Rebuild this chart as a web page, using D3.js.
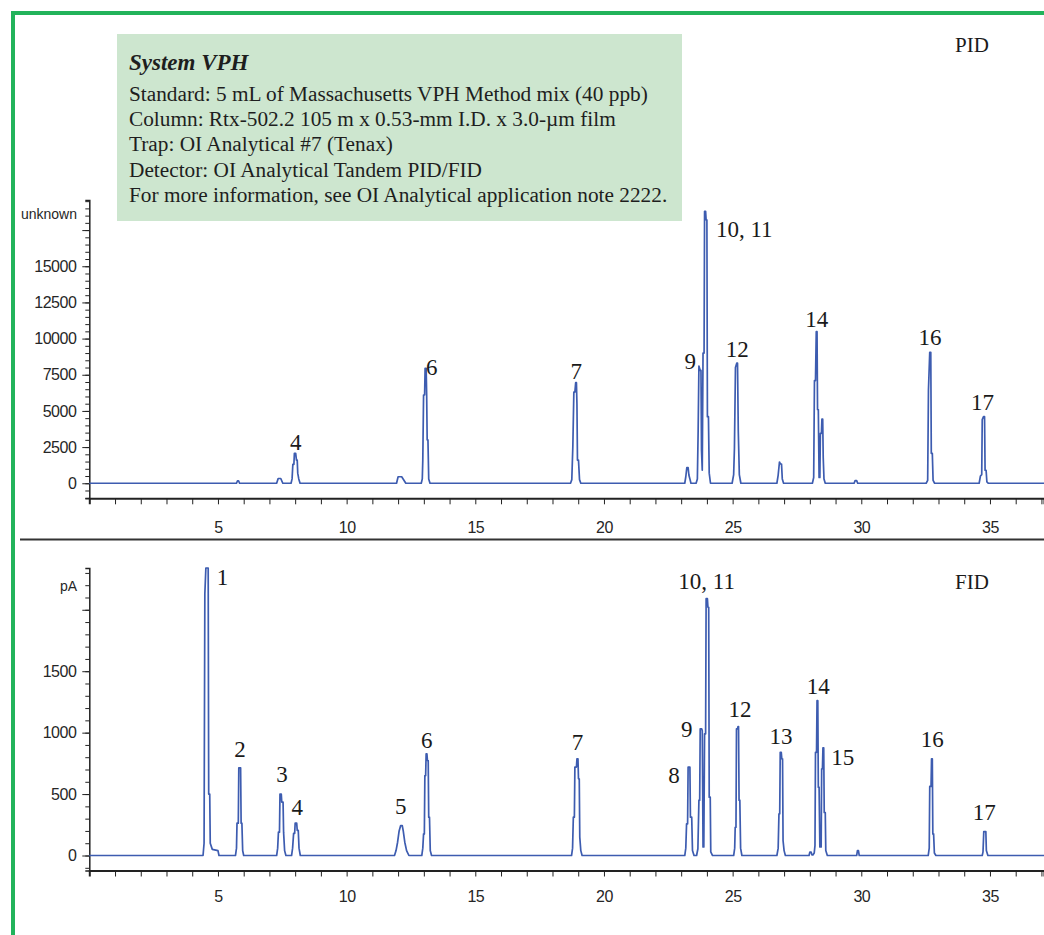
<!DOCTYPE html>
<html>
<head>
<meta charset="utf-8">
<script src="https://cdn.jsdelivr.net/npm/d3@7"></script>
<style>
  html, body { margin: 0; padding: 0; background: #fff; }
  svg { display: block; }
  .tick text { font-family: "Liberation Sans", Arial, sans-serif; font-size: 16px; letter-spacing: -0.5px; fill: #262626; }
  .tick line { stroke: #222; }
  .domain { stroke: #222; }
</style>
</head>
<body>
<div id="chart"></div>
<script>
// ---- data ----
const infoTitle = "System VPH";
const infoLines = [
  "Standard: 5 mL of Massachusetts VPH Method mix (40 ppb)",
  "Column: Rtx-502.2 105 m x 0.53-mm I.D. x 3.0-\u00b5m film",
  "Trap: OI Analytical #7 (Tenax)",
  "Detector: OI Analytical Tandem PID/FID",
  "For more information, see OI Analytical application note 2222."
];

const timeLabels = [5, 10, 15, 20, 25, 30, 35];
const pidTickLabels = [0, 2500, 5000, 7500, 10000, 12500, 15000];
const fidTickLabels = [0, 500, 1000, 1500];

// PID trace: [minutes, response]
const pidTrace = [
  [0, 0], [5.72, 0], [5.76, 170], [5.80, 170], [5.84, 0],
  [7.28, 0], [7.34, 330], [7.44, 330], [7.52, 0],
  [7.84, 0], [7.88, 300], [7.91, 1300], [7.95, 1300], [7.97, 2070], [8.02, 2070], [8.05, 1600], [8.08, 1600], [8.10, 700], [8.14, 300], [8.19, 0],
  [11.94, 0], [12.00, 450], [12.14, 450], [12.30, 0],
  [12.90, 0], [12.94, 300], [12.96, 1600], [12.99, 6100], [13.03, 6100], [13.05, 7950], [13.09, 7950], [13.11, 6100], [13.13, 3000], [13.16, 3000], [13.19, 300], [13.24, 0],
  [18.70, 0], [18.75, 250], [18.79, 2500], [18.83, 6300], [18.87, 6300], [18.90, 6950], [18.93, 6950], [18.95, 5500], [18.97, 1600], [19.01, 1600], [19.05, 250], [19.10, 0],
  [23.14, 0], [23.18, 450], [23.22, 1080], [23.27, 1080], [23.30, 570], [23.34, 300], [23.38, 0],
  [23.58, 0], [23.63, 300], [23.66, 3600], [23.69, 8100], [23.74, 7800], [23.77, 7800], [23.79, 2300], [23.82, 900], [23.85, 9000], [23.89, 9000], [23.91, 18800], [23.95, 18800], [23.97, 18200], [24.00, 18200], [24.02, 4600], [24.06, 4600], [24.09, 700], [24.14, 0],
  [24.98, 0], [25.04, 600], [25.07, 2400], [25.11, 8000], [25.16, 8300], [25.19, 8300], [25.22, 3600], [25.26, 600], [25.32, 0],
  [26.72, 0], [26.77, 570], [26.82, 1470], [26.86, 1330], [26.90, 1330], [26.93, 300], [26.98, 0],
  [28.10, 0], [28.15, 400], [28.18, 7100], [28.22, 7100], [28.25, 10480], [28.28, 10480], [28.30, 5100], [28.33, 5100], [28.36, 400], [28.39, 400], [28.41, 3450], [28.45, 3450], [28.47, 4440], [28.50, 4440], [28.52, 1800], [28.55, 300], [28.60, 0],
  [29.72, 0], [29.76, 180], [29.82, 180], [29.86, 0],
  [32.52, 0], [32.58, 200], [32.61, 6450], [32.66, 9050], [32.70, 9050], [32.72, 2070], [32.76, 2070], [32.79, 200], [32.85, 0],
  [34.58, 0], [34.63, 500], [34.68, 600], [34.70, 4400], [34.75, 4600], [34.79, 4600], [34.81, 900], [34.85, 900], [34.88, 100], [34.94, 0],
  [37.1, 0]
];

// FID trace: [minutes, pA]
const fidTrace = [
  [0, 0], [4.42, 0], [4.46, 100], [4.49, 2130], [4.53, 2340], [4.62, 2340], [4.64, 500], [4.68, 500], [4.70, 100], [4.78, 50], [5.00, 40], [5.04, 0],
  [5.68, 0], [5.72, 60], [5.74, 263], [5.79, 263], [5.81, 714], [5.88, 714], [5.90, 263], [5.93, 263], [5.96, 40], [6.00, 0],
  [7.28, 0], [7.32, 60], [7.35, 190], [7.39, 190], [7.41, 500], [7.46, 500], [7.48, 434], [7.53, 434], [7.55, 190], [7.59, 40], [7.64, 0],
  [7.86, 0], [7.90, 60], [7.94, 180], [7.98, 180], [8.00, 263], [8.06, 263], [8.08, 205], [8.12, 205], [8.15, 60], [8.20, 0],
  [11.86, 0], [11.92, 40], [11.98, 108], [12.04, 200], [12.10, 244], [12.16, 244], [12.20, 200], [12.26, 108], [12.33, 40], [12.42, 0],
  [12.92, 0], [12.96, 60], [12.99, 176], [13.02, 176], [13.04, 650], [13.07, 650], [13.09, 828], [13.12, 828], [13.14, 773], [13.17, 773], [13.19, 312], [13.22, 312], [13.25, 40], [13.30, 0],
  [18.74, 0], [18.78, 60], [18.81, 312], [18.85, 312], [18.87, 720], [18.93, 720], [18.95, 787], [18.99, 787], [19.01, 624], [19.04, 624], [19.06, 150], [19.10, 40], [19.15, 0],
  [23.14, 0], [23.18, 60], [23.21, 258], [23.25, 258], [23.27, 719], [23.34, 719], [23.36, 312], [23.41, 312], [23.44, 40], [23.50, 0],
  [23.60, 0], [23.65, 55], [23.69, 450], [23.72, 450], [23.74, 1030], [23.80, 1030], [23.82, 1015], [23.85, 70], [23.88, 70], [23.91, 990], [23.95, 990], [23.97, 2090], [24.02, 2090], [24.04, 2020], [24.07, 2020], [24.09, 475], [24.13, 475], [24.15, 30], [24.22, 0],
  [25.04, 0], [25.08, 60], [25.10, 230], [25.13, 230], [25.15, 1030], [25.19, 1030], [25.21, 1050], [25.23, 1050], [25.25, 450], [25.28, 450], [25.31, 60], [25.36, 0],
  [26.72, 0], [26.77, 60], [26.80, 340], [26.83, 340], [26.85, 840], [26.89, 840], [26.91, 787], [26.94, 787], [26.96, 120], [27.00, 40], [27.05, 0],
  [27.97, 0], [28.00, 28], [28.05, 28], [28.08, 5], [28.12, 5], [28.17, 20], [28.20, 80], [28.22, 840], [28.26, 840], [28.28, 1260], [28.31, 1260], [28.33, 556], [28.36, 556], [28.39, 70], [28.44, 70], [28.46, 706], [28.49, 706], [28.51, 877], [28.54, 877], [28.56, 350], [28.60, 350], [28.62, 40], [28.68, 0],
  [29.82, 0], [29.85, 40], [29.89, 40], [29.92, 0],
  [32.60, 0], [32.64, 60], [32.66, 562], [32.71, 562], [32.73, 787], [32.76, 787], [32.78, 176], [32.81, 176], [32.84, 20], [32.90, 0],
  [34.70, 0], [34.73, 30], [34.76, 195], [34.84, 195], [34.86, 40], [34.92, 0],
  [37.1, 0]
];

// peak labels: [text, minutes, response at baseline of text, anchor]
const pidPeakLabels = [
  ["4", 8.02, 2300, "middle"], ["6", 13.31, 7480, "middle"], ["7", 18.92, 7190, "middle"],
  ["9", 23.35, 7900, "middle"], ["10, 11", 24.35, 17040, "start"], ["12", 25.18, 8750, "middle"],
  ["14", 28.27, 10820, "middle"], ["16", 32.67, 9560, "middle"], ["17", 34.71, 5070, "middle"]
];
const fidPeakLabels = [
  ["1", 4.95, 2198, "start"], ["2", 5.86, 800, "middle"], ["3", 7.49, 596, "middle"],
  ["4", 8.08, 326, "middle"], ["5", 12.10, 340, "middle"], ["6", 13.11, 877, "middle"],
  ["7", 18.97, 855, "middle"], ["8", 22.72, 589, "middle"], ["9", 23.22, 963, "middle"],
  ["10, 11", 22.89, 2171, "start"], ["12", 25.29, 1126, "middle"], ["13", 26.88, 904, "middle"],
  ["14", 28.33, 1311, "middle"], ["15", 29.28, 738, "middle"], ["16", 32.76, 882, "middle"],
  ["17", 34.78, 285, "middle"]
];

// ---- layout ----
const W = 1044, H = 935;
const serif = "'Liberation Serif', 'Times New Roman', serif";
const sans = "'Liberation Sans', Arial, sans-serif";
const lineColor = "#3d5cb0";
const green = "#22b35b";

const svg = d3.select("#chart").append("svg")
  .attr("width", W).attr("height", H);

// green frame
svg.append("rect").attr("x", 11).attr("y", 11).attr("width", W).attr("height", 4).attr("fill", green);
svg.append("rect").attr("x", 11).attr("y", 11).attr("width", 4).attr("height", H).attr("fill", green);

// separator between panels
svg.append("line").attr("x1", 20).attr("x2", W).attr("y1", 539.5).attr("y2", 539.5)
  .attr("stroke", "#333").attr("stroke-width", 2);

const x = d3.scaleLinear().domain([0, 37.1]).range([89.3, W]);

function drawPanel(cfg) {
  const y = d3.scaleLinear().domain(cfg.yDomain).range([cfg.bottom, cfg.top]);
  const g = svg.append("g");

  // minor y ticks
  g.append("g").attr("transform", `translate(${x(0)},0)`)
    .call(d3.axisLeft(y).tickValues(cfg.minorY).tickSize(4).tickFormat(""))
    .call(s => s.select(".domain").attr("stroke-width", 1.5));
  // major y ticks with labels
  g.append("g").attr("transform", `translate(${x(0)},0)`)
    .call(d3.axisLeft(y).tickValues(cfg.majorY).tickSize(7).tickPadding(6)
      .tickFormat(d => cfg.yLabels.includes(d) ? d : ""))
    .call(s => s.select(".domain").remove());

  // x axis
  g.append("g").attr("transform", `translate(0,${cfg.bottom})`)
    .call(d3.axisBottom(x).tickValues(d3.range(1, 38)).tickSize(6).tickPadding(cfg.xPad)
      .tickFormat(d => timeLabels.includes(d) ? d : ""))
    .call(s => s.select(".domain").attr("stroke-width", 2));

  // y unit label
  g.append("text").attr("x", 77).attr("y", cfg.unitY)
    .attr("text-anchor", "end").attr("dominant-baseline", "middle")
    .attr("font-family", sans).attr("font-size", 14).attr("fill", "#262626")
    .text(cfg.unit);

  // trace
  const line = d3.line().x(d => x(d[0])).y(d => y(d[1]));
  g.append("path").datum(cfg.trace)
    .attr("d", line).attr("fill", "none")
    .attr("stroke", lineColor).attr("stroke-width", 1.7)
    .attr("stroke-linejoin", "round");

  // peak labels
  g.selectAll("text.peak").data(cfg.labels).join("text")
    .attr("class", "peak")
    .attr("x", d => x(d[1])).attr("y", d => y(d[2]))
    .attr("text-anchor", d => d[3])
    .attr("font-family", serif).attr("font-size", 23).attr("fill", "#1a1a1a")
    .text(d => d[0]);

  // detector name
  g.append("text").attr("x", 955).attr("y", cfg.detY)
    .attr("font-family", serif).attr("font-size", 21).attr("fill", "#1a1a1a")
    .text(cfg.detector);
}

drawPanel({
  top: 200, bottom: 498.3, yDomain: [-1040, 19580],
  minorY: d3.range(-1000, 19501, 500), majorY: d3.range(0, 17501, 2500), yLabels: pidTickLabels,
  xPad: 17, unit: "unknown", unitY: 215, trace: pidTrace, labels: pidPeakLabels,
  detector: "PID", detY: 52
});

drawPanel({
  top: 568, bottom: 870.5, yDomain: [-122, 2340],
  minorY: d3.range(-100, 2301, 100), majorY: d3.range(0, 2001, 500), yLabels: fidTickLabels,
  xPad: 14, unit: "pA", unitY: 587, trace: fidTrace, labels: fidPeakLabels,
  detector: "FID", detY: 589
});

// info box
const box = svg.append("g");
box.append("rect").attr("x", 117).attr("y", 34).attr("width", 565).attr("height", 187)
  .attr("fill", "#cde6cf");
box.append("text").attr("x", 129).attr("y", 70)
  .attr("font-family", serif).attr("font-size", 23).attr("font-weight", "bold").attr("font-style", "italic")
  .attr("fill", "#1e1e1e").text(infoTitle);
box.selectAll("text.info").data(infoLines).join("text")
  .attr("class", "info")
  .attr("x", 129).attr("y", (d, i) => 101 + i * 25.2)
  .attr("font-family", serif).attr("font-size", 21.3).attr("fill", "#1e1e1e")
  .text(d => d);
</script>
</body>
</html>
